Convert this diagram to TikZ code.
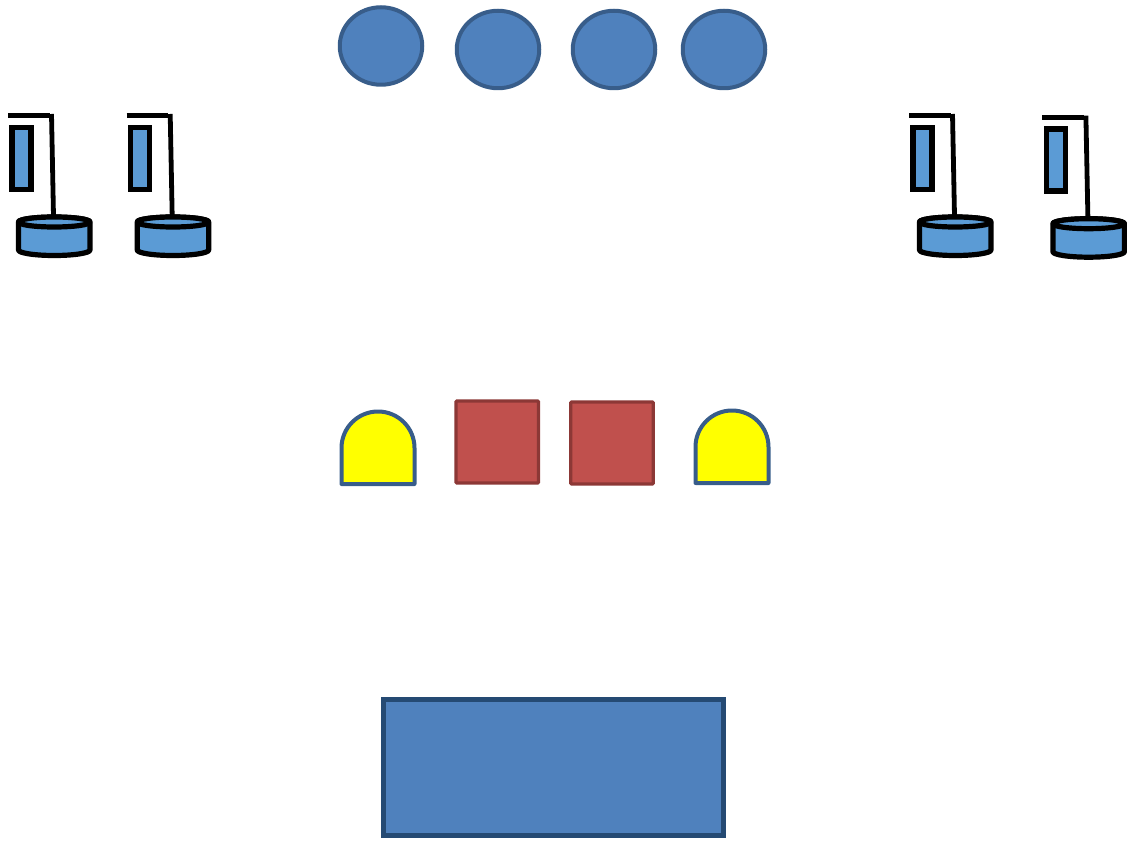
\documentclass[tikz,border=0pt]{standalone}
\usetikzlibrary{shapes.geometric}
\definecolor{bluefill}{HTML}{4F81BD}
\definecolor{blueline}{HTML}{385D8A}
\definecolor{darkline}{HTML}{254A73}
\definecolor{tankfill}{HTML}{5B9BD5}
\definecolor{redfill}{HTML}{C0504D}
\definecolor{redline}{HTML}{8C3836}
\definecolor{gatefill}{rgb}{1,1,0}
\tikzset{
  disc/.style={ellipse,draw=blueline,fill=bluefill,line width=4pt,inner sep=0pt,minimum width=82.5pt,minimum height=77.5pt},
  redbox/.style={rectangle,rounded corners=1pt,draw=redline,fill=redfill,line width=3.4pt,inner sep=0pt,minimum width=82.5pt,minimum height=82pt},
  basebox/.style={rectangle,draw=darkline,fill=bluefill,line width=5.5pt,inner sep=0pt,minimum width=340pt,minimum height=136pt},
  gate/.style={draw=blueline,fill=gatefill,line width=4pt,line join=round},
  wire/.style={draw=black,line width=4.8pt},
  postbox/.style={rectangle,draw=black,fill=tankfill,line width=5.5pt,inner sep=0pt,minimum width=19pt,minimum height=62pt},
  tankpart/.style={draw=black,fill=tankfill,line width=5.2pt,line join=round}
}
\newcommand{\tankunit}[3]{%
  \begin{scope}[shift={(#2,#3)}]
    \node[postbox] (#1-post) at (21.5,158.5) {};
    \path[tankpart] (18.5,222) -- (18.5,250) arc[start angle=180,end angle=0,x radius=35.75,y radius=5.5] -- (90,222) arc[start angle=360,end angle=180,x radius=35.75,y radius=5] -- cycle;
    \path[tankpart] (54.25,222) ellipse[x radius=35.75,y radius=5];
    \coordinate (#1-a) at (8,115.5);
    \coordinate (#1-b) at (49.5,115.5);
    \coordinate (#1-c) at (51.5,114);
    \coordinate (#1-d) at (53.5,216);
    \draw[wire] (#1-a) -- (#1-b);
    \draw[wire] (#1-c) -- (#1-d);
  \end{scope}}
\begin{document}
\begin{tikzpicture}[x=1pt,y=-1pt]
\useasboundingbox (0,0) rectangle (1127,842);
\node[disc] (d1) at (381,46) {};
\node[disc] (d2) at (498,49.5) {};
\node[disc] (d3) at (614,49.5) {};
\node[disc] (d4) at (724,49.5) {};
\tankunit{t1}{0}{0}
\tankunit{t2}{118.7}{0}
\tankunit{t3}{901}{0}
\tankunit{t4}{1034.4}{1.7}
\path[gate] (341.5,484) -- (341.5,448) arc[start angle=180,end angle=360,radius=36.5] -- (414.5,484) -- cycle;
\path[gate] (695.5,483) -- (695.5,447) arc[start angle=180,end angle=360,radius=36.5] -- (768.5,483) -- cycle;
\node[redbox] (r1) at (497.25,442) {};
\node[redbox] (r2) at (612,443) {};
\node[basebox] (base) at (553.5,767.5) {};
\end{tikzpicture}
\end{document}
